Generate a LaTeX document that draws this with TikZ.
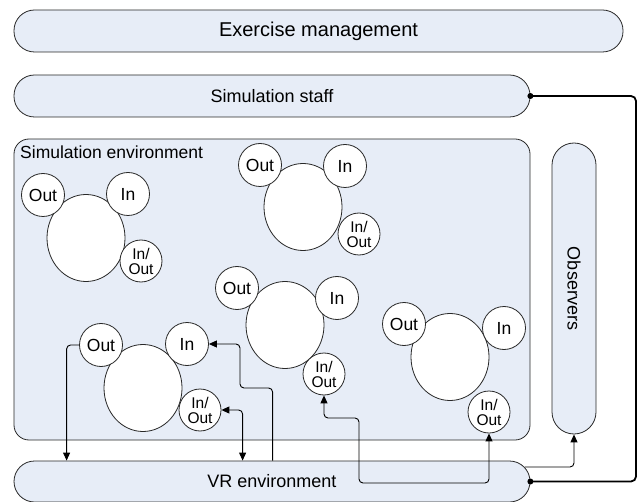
\documentclass[tikz,border=0pt]{standalone}
\usepackage{fontspec}
\setmainfont{Liberation Sans}
\usetikzlibrary{shapes.geometric,arrows.meta,calc}
\definecolor{panel}{RGB}{231,237,247}
\definecolor{edge}{RGB}{40,40,40}
\begin{document}
\begin{tikzpicture}[x=1pt,y=-1pt,
  bar/.style={draw=edge,fill=panel,line width=0.8pt,rounded corners=20.5pt,
    inner sep=0pt,font=\fontsize{18}{20}\selectfont},
  envbox/.style={draw=edge,fill=panel,line width=0.8pt,rounded corners=15pt,inner sep=0pt},
  body/.style={draw=edge,fill=white,line width=0.8pt,ellipse,inner sep=0pt,
    minimum width=78pt,minimum height=87pt},
  port/.style={draw=edge,fill=white,line width=0.8pt,circle,inner sep=0pt,
    minimum size=43pt,font=\fontsize{17.5}{19}\selectfont},
  ioport/.style={port,minimum size=42pt,align=center,font=\fontsize{15.5}{15}\selectfont},
  link/.style={draw=black,line width=0.9pt,rounded corners=4pt},
  tip/.style={-{Triangle[length=8pt,width=7pt]}},
  tips/.style={{Triangle[length=8pt,width=7pt]}-{Triangle[length=8pt,width=7pt]}},
  hub/.style={circle,fill=black,inner sep=0pt,minimum size=6pt}]
\useasboundingbox (0,0) rectangle (639,502);

% layers of the exercise
\node[bar,minimum width=609pt,minimum height=42pt,font=\fontsize{20}{22}\selectfont] (ex) at (318.5,31) {Exercise management};
\node[bar,minimum width=516pt,minimum height=42pt] (st) at (272,96) {Simulation staff};
\node[envbox,minimum width=516pt,minimum height=301pt] (env) at (272,289.5) {};
\node[anchor=north west,inner sep=0pt,font=\fontsize{17.5}{19}\selectfont] (envlbl) at (20,146) {Simulation environment};
\node[bar,minimum width=44pt,minimum height=291pt,rounded corners=22pt] (obs) at (574,288.5) {};
\node[rotate=-90,font=\fontsize{18}{20}\selectfont] (obslbl) at (obs.center) {Observers};
\node[bar,minimum width=516pt,minimum height=41pt] (vr) at (272,481.5) {VR environment};

% agent 1
\node[body] (a1) at (86,238) {};
\node[port] (a1o) at (43,195) {Out};
\node[port] (a1i) at (128,194) {In};
\node[ioport] (a1io) at (141,261) {In/\\Out};

% agent 2
\node[body] (a2) at (303,207) {};
\node[port] (a2o) at (260,165) {Out};
\node[port] (a2i) at (345,166) {In};
\node[ioport] (a2io) at (359,234) {In/\\Out};

% agent 3
\node[body] (a3) at (285,325) {};
\node[port] (a3o) at (237,288) {Out};
\node[port] (a3i) at (337,298) {In};
\node[ioport] (a3io) at (324,374) {In/\\Out};

% agent 4
\node[body] (a4) at (450,357) {};
\node[port] (a4o) at (404,324) {Out};
\node[port] (a4i) at (504,328) {In};
\node[ioport] (a4io) at (489,412) {In/\\Out};

% agent 5
\node[body] (a5) at (143,388) {};
\node[port] (a5o) at (101,345) {Out};
\node[port] (a5i) at (187,344) {In};
\node[ioport] (a5io) at (200,410) {In/\\Out};

% connections through the VR environment
\draw[link,tip] (a5o.west) -| ($(vr.north west)+(53,0)$);
\draw[link,tip] ($(vr.north west)+(259,0)$) |- (240,388) |- (a5i.east);
\draw[link,tips] (a5io.east) -| ($(vr.north west)+(229,0)$);
\draw[link,tips] (a3io.south) |- (359,418) |- (a4io.south |- 0,483) -- (a4io.south);
\coordinate (vrout) at (525,467);
\draw[link,tip] (vrout) -| (obs.south);

% staff link to the VR environment
\node[hub] (sthub) at (st.east) {};
\node[hub] (vrhub) at (vr.east) {};
\draw[line width=1.8pt,rounded corners=5pt] (sthub.center) -| (636,300) |- (vrhub.center);
\end{tikzpicture}
\end{document}
